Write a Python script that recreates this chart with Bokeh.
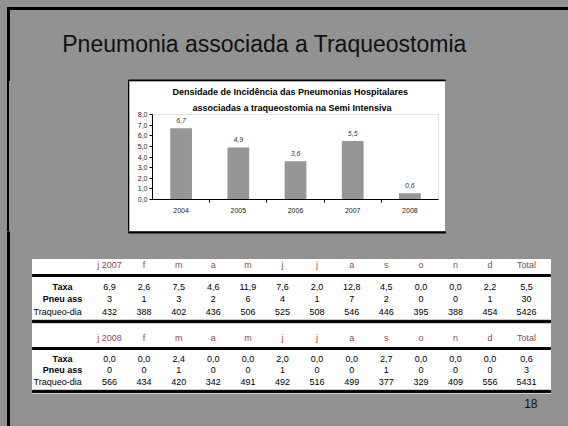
from bokeh.plotting import figure
from bokeh.models import Range1d, FixedTicker, CustomJSTickFormatter, Title, Div
from bokeh.layouts import column, row
from bokeh.embed import file_html
from bokeh.resources import INLINE
from bokeh.core.properties import value

GRAY = "#929292"
HEAD = "#8e4a4a"
TFONT = "Liberation Sans"
SANS = "Liberation Sans"

# ---- data ----
years = ["2004", "2005", "2006", "2007", "2008"]
densidade = [6.7, 4.9, 3.6, 5.5, 0.6]

meses07 = ["j 2007", "f", "m", "a", "m", "j", "j", "a", "s", "o", "n", "d", "Total"]
taxa07 = [6.9, 2.6, 7.5, 4.6, 11.9, 7.6, 2.0, 12.8, 4.5, 0.0, 0.0, 2.2, 5.5]
pneu07 = [3, 1, 3, 2, 6, 4, 1, 7, 2, 0, 0, 1, 30]
traq07 = [432, 388, 402, 436, 506, 525, 508, 546, 446, 395, 388, 454, 5426]

meses08 = ["j 2008", "f", "m", "a", "m", "j", "j", "a", "s", "o", "n", "d", "Total"]
taxa08 = [0.0, 0.0, 2.4, 0.0, 0.0, 2.0, 0.0, 0.0, 2.7, 0.0, 0.0, 0.0, 0.6]
pneu08 = [0, 0, 1, 0, 0, 1, 0, 0, 1, 0, 0, 0, 3]
traq08 = [566, 434, 420, 342, 491, 492, 516, 499, 377, 329, 409, 556, 5431]

row_labels = ["Taxa", "Pneu ass", "Traqueo-dia"]


def fmt(v):
    return f"{v:.1f}".replace(".", ",")


def canvas_fig(w, h):
    f = figure(width=w, height=h, x_range=Range1d(0, w), y_range=Range1d(h, 0),
               output_backend="svg", toolbar_location=None, min_border=0,
               x_axis_location=None, y_axis_location=None,
               background_fill_color=GRAY, border_fill_color=GRAY,
               outline_line_color=None)
    f.grid.visible = False
    return f


# ---- top strip (slide title) ----
top = canvas_fig(568, 81)
top.quad(left=[7], right=[568], top=[7], bottom=[9], color="black")
top.quad(left=[7], right=[9], top=[7], bottom=[81], color="black")
top.quad(left=[128], right=[445], top=[79.5], bottom=[81], color="black")
top.text(x=[264], y=[43], text=["Pneumonia associada a Traqueostomia"],
         text_align="center", text_baseline="middle", text_font=value(SANS),
         text_font_size="23px", text_color="#111111")

# ---- left / right fillers ----
grad = (f"linear-gradient(to right, {GRAY} 0px, {GRAY} 7px, #000 7px, #000 9px, "
        f"{GRAY} 9px, {GRAY} 128px, #000 128px, #000 129px, {GRAY} 129px)")
left = Div(text="", width=129, height=150, margin=0,
           styles={"background": grad})
right = Div(text="", width=123, height=150, margin=0,
            styles={"background-color": GRAY})

# ---- chart ----
chart = figure(width=316, height=150, x_range=Range1d(0, 5), y_range=Range1d(0, 8),
               output_backend="svg", toolbar_location=None,
               min_border_left=23, min_border_right=7, min_border_top=33, min_border_bottom=32,
               background_fill_color="white", border_fill_color="white",
               outline_line_color=None)
chart.grid.visible = False
xs = [i + 0.5 for i in range(len(years))]
chart.vbar(x=xs, top=densidade, width=0.38, fill_color="#969696", line_color=None)
chart.text(x=xs, y=densidade, text=[fmt(v) for v in densidade], text_align="center",
           text_baseline="bottom", y_offset=-5, text_font=value(SANS),
           text_font_size="7px", text_font_style="italic", text_color="#333333")

chart.yaxis.ticker = FixedTicker(ticks=list(range(0, 9)))
chart.yaxis.formatter = CustomJSTickFormatter(code="return tick.toFixed(1).replace('.', ',')")
chart.yaxis.major_tick_out = 3
chart.yaxis.major_tick_in = 0
chart.yaxis.minor_tick_line_color = None
chart.yaxis.major_label_standoff = 2
chart.yaxis.major_label_text_font = SANS
chart.yaxis.major_label_text_font_size = "7px"
chart.yaxis.major_label_text_color = "#222222"
chart.yaxis.axis_line_color = "black"

chart.xaxis.ticker = FixedTicker(ticks=xs, minor_ticks=[1, 2, 3, 4])
chart.xaxis.major_label_overrides = {x: y for x, y in zip(xs, years)}
chart.xaxis.major_tick_out = 0
chart.xaxis.major_tick_in = 0
chart.xaxis.major_tick_line_color = None
chart.xaxis.minor_tick_out = 3
chart.xaxis.minor_tick_in = 0
chart.xaxis.minor_tick_line_color = "black"
chart.xaxis.major_label_standoff = 5
chart.xaxis.major_label_text_font = SANS
chart.xaxis.major_label_text_font_size = "7px"
chart.xaxis.major_label_text_color = "#222222"
chart.xaxis.axis_line_color = "black"

chart.add_layout(Title(text="associadas a traqueostomia na Semi Intensiva", align="left",
                       text_font=SANS, text_font_size="9px", text_font_style="bold",
                       text_color="black", standoff=4, offset=40), "above")
chart.add_layout(Title(text="Densidade de Incidência das Pneumonias Hospitalares", align="left",
                       text_font=SANS, text_font_size="9px", text_font_style="bold",
                       text_color="black", standoff=3.5, offset=20), "above")

# ---- bottom (tables) ----
Y0 = 231
bot = canvas_fig(568, 195)
bot.quad(left=[7], right=[9], top=[0], bottom=[195], color="black")
bot.quad(left=[128], right=[445], top=[0], bottom=[1.5], color="black")
bot.quad(left=[32], right=[550], top=[259 - Y0], bottom=[393 - Y0], color="white")

cols = [109 + 34.6 * i for i in range(12)] + [526]


def draw_table(y_head, y_line1, y_rows, y_line2, meses, taxa, pneu, traq):
    y_head, y_line1, y_line2 = y_head - Y0, y_line1 - Y0, y_line2 - Y0
    y_rows = [y - Y0 for y in y_rows]
    bot.text(x=cols, y=[y_head] * len(cols), text=meses, text_align="center",
             text_baseline="middle", text_font=value(TFONT), text_font_size="9px",
             text_color=HEAD)
    bot.quad(left=[32], right=[550], top=[y_line1 - 1], bottom=[y_line1 + 1], color="black")
    bot.quad(left=[32], right=[550], top=[y_line2 - 1.2], bottom=[y_line2 + 1.2], color="black")
    rows_txt = [[fmt(v) for v in taxa], [str(v) for v in pneu], [str(v) for v in traq]]
    for yr, txt in zip(y_rows, rows_txt):
        bot.text(x=cols, y=[yr] * len(cols), text=txt, text_align="center",
                 text_baseline="middle", text_font=value(TFONT), text_font_size="9px",
                 text_color="black")
    bot.text(x=[62, 62], y=y_rows[:2], text=row_labels[:2], text_align="center",
             text_baseline="middle", text_font=value(TFONT), text_font_size="9px",
             text_font_style="bold", text_color="black")
    bot.text(x=[33], y=[y_rows[2]], text=[row_labels[2]], text_align="left",
             text_baseline="middle", text_font=value(TFONT), text_font_size="9px",
             text_color="black")


draw_table(264, 275, [286, 298.5, 311], 321, meses07, taxa07, pneu07, traq07)
draw_table(337, 348, [358, 369.5, 381], 391, meses08, taxa08, pneu08, traq08)

bot.text(x=[537], y=[403 - Y0], text=["18"], text_align="right", text_baseline="middle",
         text_font=value(SANS), text_font_size="12px", text_color="#111111")

mid = row(left, chart, right, spacing=0, styles={"background": grad})
layout = column(top, mid, bot, spacing=0, styles={"background-color": GRAY})

open("out.html", "w").write(file_html(layout, INLINE))
